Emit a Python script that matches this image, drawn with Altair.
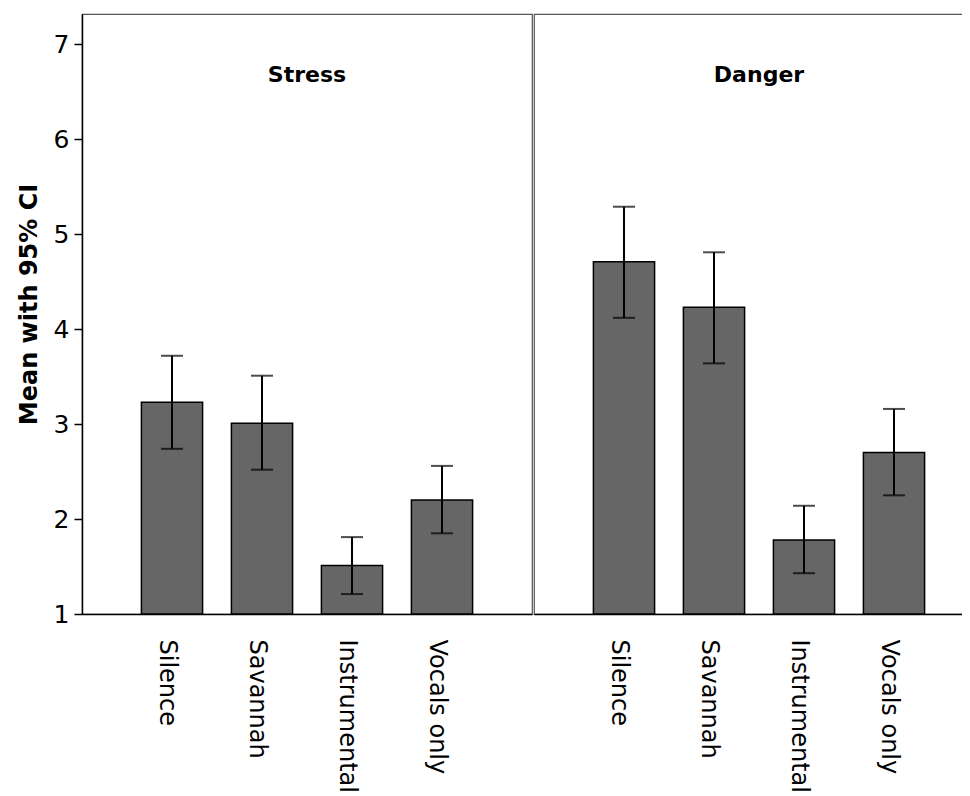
import altair as alt
import pandas as pd

# ---- data ----
conditions = ["Silence", "Savannah", "Instrumental", "Vocals only"]
panels = ["Stress", "Danger"]

stress_mean = [3.23, 3.01, 1.51, 2.20]
stress_lo = [2.74, 2.52, 1.21, 1.85]
stress_hi = [3.72, 3.51, 1.81, 2.56]

danger_mean = [4.71, 4.23, 1.78, 2.70]
danger_lo = [4.12, 3.64, 1.43, 2.25]
danger_hi = [5.29, 4.81, 2.14, 3.16]

y_ticks = [1, 2, 3, 4, 5, 6, 7]
y_title = "Mean with 95% CI"

# ---- styling ----
FONT = "DejaVu Sans"
Y_DOMAIN = [1, 7.32]
PLOT_H = 600
PANEL_W = 450
BAR_FILL = "#666666"


def panel(name, means, lows, highs, show_y):
    df = pd.DataFrame({
        "condition": conditions,
        "mean": means,
        "lo": lows,
        "hi": highs,
        "base": [1] * len(conditions),
    })
    yscale = alt.Scale(domain=Y_DOMAIN, nice=False, zero=False)
    xscale = alt.Scale(domain=conditions, paddingInner=0.32, paddingOuter=0.66)
    xaxis = alt.Axis(title=None, labelAngle=90, ticks=False, labelPadding=25,
                     labelFont=FONT, labelFontSize=24, labelColor="#000",
                     domainColor="#000", domainWidth=1.5, labelOffset=-5,
                     grid=False)
    if show_y:
        yaxis = alt.Axis(title=y_title, values=y_ticks, format="d",
                         labelFont=FONT, labelFontSize=25, labelColor="#000",
                         labelPadding=5, tickSize=8, tickColor="#000",
                         tickWidth=1.5, domainColor="#000", domainWidth=1.5,
                         titleFont=FONT, titleFontSize=24, titleFontWeight="bold",
                         titleColor="#000", titlePadding=12, titleY=290,
                         grid=False)
    else:
        yaxis = None

    base = alt.Chart(df)
    xenc = alt.X("condition:N", sort=conditions, scale=xscale, axis=xaxis)
    bars = base.mark_bar(color=BAR_FILL, stroke="#000", strokeWidth=1.5).encode(
        x=xenc,
        y=alt.Y("mean:Q", scale=yscale, axis=yaxis),
        y2=alt.Y2("base:Q"),
    )
    rule = base.mark_rule(color="#000", strokeWidth=2).encode(
        x=xenc,
        y=alt.Y("lo:Q", scale=yscale, axis=yaxis),
        y2=alt.Y2("hi:Q"),
    )
    cap_hi = base.mark_tick(color="#000", thickness=2, size=22,
                            orient="horizontal").encode(
        x=xenc,
        y=alt.Y("hi:Q", scale=yscale, axis=yaxis),
    )
    cap_lo = base.mark_tick(color="#000", thickness=2, size=22,
                            orient="horizontal").encode(
        x=xenc,
        y=alt.Y("lo:Q", scale=yscale, axis=yaxis),
    )
    title = alt.Chart(pd.DataFrame({"panel": [name]})).mark_text(
        font=FONT, fontSize=22, fontWeight="bold", color="#000",
        align="center", baseline="middle",
    ).encode(text="panel:N", x=alt.value(PANEL_W / 2), y=alt.value(61))

    return alt.layer(bars, rule, cap_hi, cap_lo, title).properties(
        width=PANEL_W, height=PLOT_H)


left = panel(panels[0], stress_mean, stress_lo, stress_hi, show_y=True)
right = panel(panels[1], danger_mean, danger_lo, danger_hi, show_y=False)

chart = alt.hconcat(left, right, spacing=0).resolve_scale(
    x="independent", y="independent"
).resolve_axis(
    x="independent", y="independent"
).configure_view(
    stroke="#555555", strokeWidth=1.2
).properties(
    autosize=alt.AutoSizeParams(type="none"),
    padding={"left": 74, "top": 6, "right": 880, "bottom": 768},
    background="white",
)

chart.save("out.html", embed_options={"renderer": "svg", "actions": False})
